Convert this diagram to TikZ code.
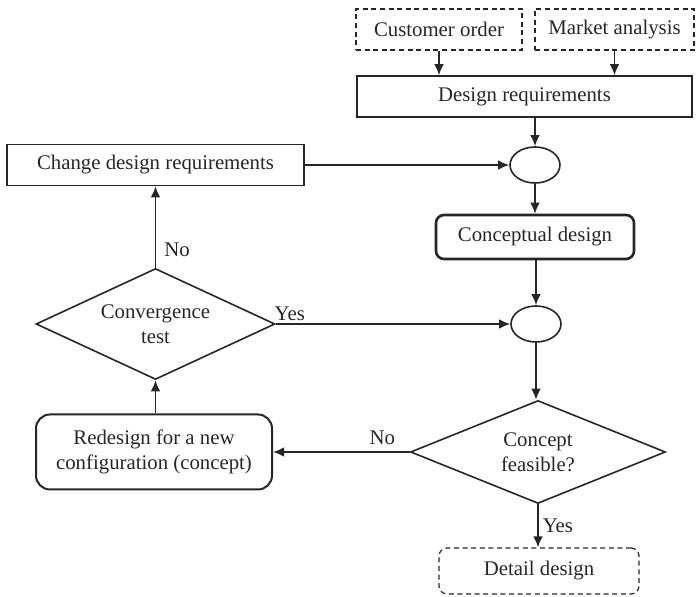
\documentclass[tikz,border=0pt]{standalone}
\usepackage{fontspec}
\setmainfont{Liberation Serif}
\usetikzlibrary{shapes.geometric,arrows.meta}
\begin{document}
\begin{tikzpicture}[x=0.5pt,y=-0.5pt,
  every node/.style={font=\fontsize{10.4pt}{12.6pt}\selectfont, inner sep=0pt, align=center, text=black!85},
  line/.style={draw=black!85, line width=0.8pt},
  arr/.style={line, -{Latex[length=5.5pt,width=4.8pt]}},
  plainbox/.style={line, rectangle},
  dashbox/.style={draw=black!85, line width=0.6pt, dashed, dash pattern=on 2.5pt off 1.8pt, rectangle},
  roundbox/.style={line, rectangle, rounded corners=#1},
  junction/.style={line, ellipse, minimum width=25pt, minimum height=18pt},
  decision/.style={line, diamond, shape aspect=#1},
  lbl/.style={font=\fontsize{10.4pt}{12.6pt}\selectfont}]
\useasboundingbox (0,0) rectangle (698,597);

% inputs
\node[dashbox, minimum width=83pt, minimum height=20.5pt] (co) at (439,29.5) {Customer order};
\node[dashbox, minimum width=79.5pt, minimum height=20.5pt] (ma) at (614.5,29.5) {Market analysis};
\node[plainbox, minimum width=167.5pt, minimum height=20.5pt] (dr) at (524.5,96.5) {Design requirements};

% main column
\node[junction] (e1) at (535,165) {};
\node[plainbox, minimum width=148.5pt, minimum height=20.5pt] (cdr) at (155.5,165) {Change design requirements};
\node[roundbox=4pt, line width=1.3pt, minimum width=99pt, minimum height=22pt] (cd) at (535,237) {Conceptual design};
\node[junction] (e2) at (536,324) {};
\node[decision=2.15, minimum width=119.5pt, minimum height=55.5pt] (ct) at (155.5,324) {Convergence\\test};
\node[decision=2.48, minimum width=127.5pt, minimum height=51.5pt] (cf) at (538,452) {Concept\\feasible?};
\node[roundbox=7pt, line width=1pt, minimum width=118pt, minimum height=37.5pt] (rd) at (154,452) {Redesign for a new\\configuration (concept)};
\node[dashbox, rounded corners=4pt, minimum width=100pt, minimum height=23pt] (dd) at (539,571) {Detail design};

% connectors
\draw[arr] (co) -- (co |- dr.north);
\draw[arr] (ma) -- (ma |- dr.north);
\draw[arr] (dr.south -| e1) -- (e1);
\draw[arr] (cdr.east) -- (e1.west);
\draw[arr] (e1) -- (e1 |- cd.north);
\draw[arr] (cd.south -| e2) -- (e2);
\draw[arr] (e2) -- (e2 |- cf.north);
\draw[arr] (cf.south) -- node[lbl, right=2pt] {Yes} (cf.south |- dd.north);
\draw[arr] (ct.east) -- node[lbl, pos=0, anchor=south west, xshift=-1pt, yshift=1pt] {Yes} (e2.west);
\draw[arr] (ct.north) -- node[lbl, pos=0.22, right=4pt] {No} (ct.north |- cdr.south);
\draw[arr] (rd.north -| ct) -- (ct.south);
\draw[arr] (cf.west) -- node[lbl, pos=0.2, above=3pt] {No} (rd.east);
\end{tikzpicture}
\end{document}
